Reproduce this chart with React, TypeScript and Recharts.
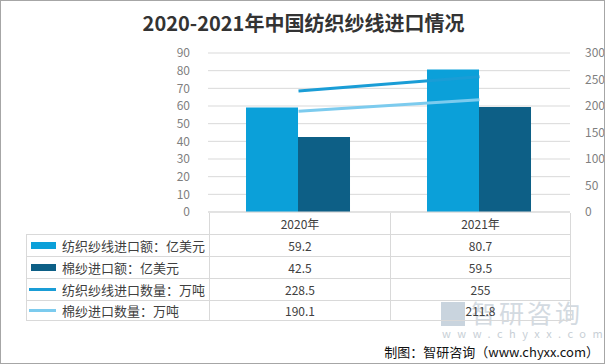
import { ComposedChart, Bar, Line, XAxis, YAxis, CartesianGrid } from "recharts";

const categories = ["2020年", "2021年"];
const textileValue = [59.2, 80.7]; // 纺织纱线进口额：亿美元
const cottonValue = [42.5, 59.5]; // 棉纱进口额：亿美元
const textileVolume = [228.5, 255]; // 纺织纱线进口数量：万吨
const cottonVolume = [190.1, 211.8]; // 棉纱进口数量：万吨

const leftTicks = [0, 10, 20, 30, 40, 50, 60, 70, 80, 90];
const rightTicks = [0, 50, 100, 150, 200, 250, 300];

const FONT = '"Noto Sans CJK SC", "Noto Sans", sans-serif';

const series = [
  { key: "textileValue", name: "纺织纱线进口额：亿美元", color: "#0BA0D9", kind: "bar", values: textileValue },
  { key: "cottonValue", name: "棉纱进口额：亿美元", color: "#0D5F86", kind: "bar", values: cottonValue },
  { key: "textileVolume", name: "纺织纱线进口数量：万吨", color: "#1A9DD6", kind: "line", values: textileVolume },
  { key: "cottonVolume", name: "棉纱进口数量：万吨", color: "#7CCBEE", kind: "line", values: cottonVolume },
];

const data = categories.map((name, i) => ({
  name,
  textileValue: textileValue[i],
  cottonValue: cottonValue[i],
  textileVolume: textileVolume[i],
  cottonVolume: cottonVolume[i],
}));

const GRID = "#D9D9D9";
const rowTops = [233, 255, 277, 299, 320];

function DataTable() {
  const colX = [208, 389, 570];
  return (
    <div style={{ position: "absolute", left: 0, top: 0, width: 605, height: 364, pointerEvents: "none" }}>
      {/* header row */}
      {categories.map((c, i) => (
        <div
          key={c}
          style={{
            position: "absolute",
            left: colX[i],
            top: 212,
            width: colX[i + 1] - colX[i],
            height: 21,
            borderLeft: `1px solid ${GRID}`,
            borderRight: i === categories.length - 1 ? `1px solid ${GRID}` : "none",
            boxSizing: "border-box",
            display: "flex",
            alignItems: "center",
            justifyContent: "center",
            fontSize: 12,
            color: "#404040",
          }}
        >
          {c}
        </div>
      ))}
      {series.map((s, r) => {
        const top = rowTops[r];
        const h = rowTops[r + 1] - top;
        return (
          <div key={s.key}>
            <div
              style={{
                position: "absolute",
                left: 25,
                top,
                width: 183,
                height: h,
                borderTop: `1px solid ${GRID}`,
                borderLeft: `1px solid ${GRID}`,
                borderBottom: r === series.length - 1 ? `1px solid ${GRID}` : "none",
                boxSizing: "border-box",
                display: "flex",
                alignItems: "center",
                fontSize: 13,
                color: "#404040",
              }}
            >
              {s.kind === "bar" ? (
                <span style={{ display: "inline-block", width: 25, height: 7, background: s.color, marginLeft: 4, marginRight: 6 }} />
              ) : (
                <span style={{ display: "inline-block", width: 27, height: 3, background: s.color, marginLeft: 2, marginRight: 6 }} />
              )}
              {s.name}
            </div>
            {s.values.map((v, i) => (
              <div
                key={i}
                style={{
                  position: "absolute",
                  left: colX[i],
                  top,
                  width: colX[i + 1] - colX[i],
                  height: h,
                  borderTop: `1px solid ${GRID}`,
                  borderLeft: `1px solid ${GRID}`,
                  borderRight: i === s.values.length - 1 ? `1px solid ${GRID}` : "none",
                  borderBottom: r === series.length - 1 ? `1px solid ${GRID}` : "none",
                  boxSizing: "border-box",
                  display: "flex",
                  alignItems: "center",
                  justifyContent: "center",
                  fontSize: 12,
                  color: "#404040",
                }}
              >
                {v}
              </div>
            ))}
          </div>
        );
      })}
    </div>
  );
}

export default function App() {
  return (
    <div
      style={{
        position: "absolute",
        left: 0,
        top: 0,
        width: 605,
        height: 364,
        background: "#fff",
        fontFamily: FONT,
        border: "1px solid #A6A6A6",
        boxSizing: "border-box",
        overflow: "hidden",
      }}
    >
      <div
        style={{
          position: "absolute",
          left: 0,
          top: 7,
          width: 605,
          textAlign: "center",
          fontSize: 20,
          fontWeight: "bold",
          color: "#333",
        }}
      >
        2020-2021年中国纺织纱线进口情况
      </div>
      {/* watermark */}
      <div style={{ position: "absolute", left: 440, top: 297, fontSize: 25, lineHeight: "28px", color: "#D3DAE1", letterSpacing: 3, whiteSpace: "nowrap" }}>
        <span style={{ display: "inline-block", width: 24, height: 24, background: "#C9D4DE", marginRight: 6, verticalAlign: "-3px" }} />
        智研咨询
      </div>
      <div style={{ position: "absolute", left: 441, top: 326, fontSize: 11, lineHeight: "12px", color: "#C8CFD6", letterSpacing: 6.5, whiteSpace: "nowrap" }}>
        www.chyxx.com
      </div>
      <div style={{ position: "absolute", left: -1, top: -1 }}>
        <ComposedChart
          width={605}
          height={364}
          data={data}
          margin={{ top: 53, right: 0, bottom: 151, left: 0 }}
          barCategoryGap="21%"
          barGap={0}
        >
          <CartesianGrid yAxisId="left" vertical={false} stroke={GRID} />
          <XAxis dataKey="name" tick={false} height={1} axisLine={{ stroke: GRID }} tickLine={false} />
          <YAxis
            yAxisId="left"
            width={208}
            domain={[0, 90]}
            ticks={leftTicks}
            interval={0}
            axisLine={false}
            tickLine={false}
            tickMargin={12}
            tick={{ fill: "#7F7F7F", fontSize: 12 }}
          />
          <YAxis
            yAxisId="right"
            orientation="right"
            width={35}
            domain={[0, 300]}
            ticks={rightTicks}
            interval={0}
            axisLine={false}
            tickLine={false}
            tickMargin={9}
            tick={{ fill: "#7F7F7F", fontSize: 12, textAnchor: "start" }}
          />
          <Bar yAxisId="left" dataKey="textileValue" fill={series[0].color} isAnimationActive={false} />
          <Bar yAxisId="left" dataKey="cottonValue" fill={series[1].color} isAnimationActive={false} />
          <Line yAxisId="right" type="linear" dataKey="textileVolume" stroke={series[2].color} strokeWidth={3} dot={false} isAnimationActive={false} />
          <Line yAxisId="right" type="linear" dataKey="cottonVolume" stroke={series[3].color} strokeWidth={3} dot={false} isAnimationActive={false} />
        </ComposedChart>
      </div>
      <DataTable />
      <div style={{ position: "absolute", right: 5, top: 342, fontSize: 13, lineHeight: "18px", color: "#111", whiteSpace: "nowrap" }}>
        制图：智研咨询（www.chyxx.com）
      </div>
    </div>
  );
}
